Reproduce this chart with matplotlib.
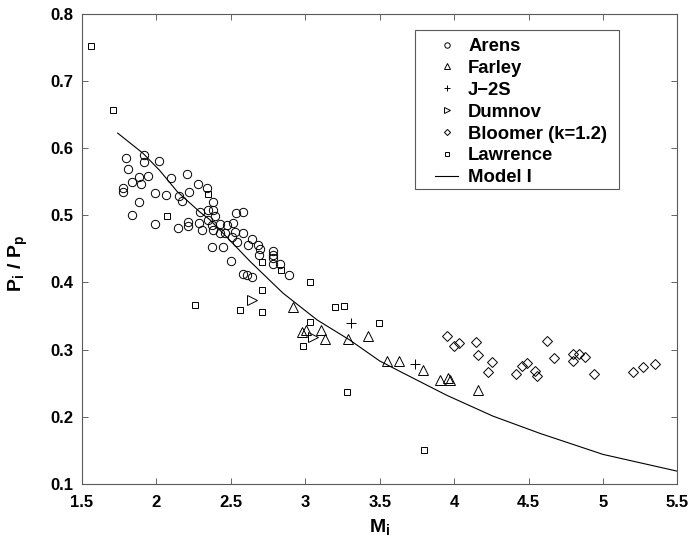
import matplotlib
matplotlib.use("Agg")
from matplotlib import pyplot as plt
from matplotlib.patches import Rectangle

plt.rcParams['font.family'] = ['Liberation Sans', 'DejaVu Sans']
plt.rcParams['mathtext.fontset'] = 'custom'
plt.rcParams['mathtext.rm'] = 'Liberation Sans:bold'
plt.rcParams['mathtext.it'] = 'Liberation Sans:bold'
plt.rcParams['mathtext.bf'] = 'Liberation Sans:bold'

# Arens
arens_x = [1.795, 1.916, 1.916, 2.015, 1.807, 1.885, 1.945, 1.898, 1.838, 1.777,
           1.777, 2.096, 2.207, 1.992, 2.066, 2.153, 2.174, 2.221, 2.277, 2.337,
           1.885, 1.838, 1.990, 2.147, 2.214, 2.214, 2.292, 2.288, 2.348, 2.378,
           2.378, 2.393, 2.304, 2.348, 2.371, 2.382, 2.427, 2.472, 2.512, 2.532,
           2.583, 2.427, 2.460, 2.505, 2.528, 2.583, 2.539, 2.449, 2.371, 2.640,
           2.613, 2.684, 2.695, 2.691, 2.785, 2.785, 2.785, 2.785, 2.830, 2.890,
           2.501, 2.583, 2.606, 2.640]
arens_y = [0.585, 0.590, 0.579, 0.580, 0.568, 0.557, 0.558, 0.546, 0.549, 0.541,
           0.534, 0.556, 0.561, 0.533, 0.530, 0.529, 0.521, 0.535, 0.547, 0.541,
           0.519, 0.500, 0.487, 0.481, 0.490, 0.484, 0.504, 0.488, 0.508, 0.519,
           0.508, 0.498, 0.478, 0.493, 0.485, 0.478, 0.487, 0.485, 0.489, 0.503,
           0.505, 0.473, 0.473, 0.468, 0.475, 0.473, 0.460, 0.453, 0.453, 0.465,
           0.456, 0.456, 0.449, 0.441, 0.446, 0.441, 0.436, 0.428, 0.427, 0.411,
           0.432, 0.413, 0.411, 0.408]

# Farley
farley_x = [2.919, 2.980, 3.004, 3.105, 3.132, 3.288, 3.419, 3.546, 3.631, 3.792,
            3.904, 3.960, 3.971, 4.158]
farley_y = [0.364, 0.326, 0.329, 0.329, 0.316, 0.316, 0.320, 0.283, 0.283, 0.270,
            0.254, 0.257, 0.254, 0.240]

# J-2S
j2s_x = [3.304, 3.736]
j2s_y = [0.340, 0.278]

# Dumnov
dumnov_x = [2.640, 3.049]
dumnov_y = [0.373, 0.318]

# Bloomer (k=1.2)
bloomer_x = [3.949, 3.998, 4.030, 4.144, 4.161, 4.251, 4.229, 4.413, 4.453, 4.491,
             4.621, 4.672, 4.542, 4.558, 4.800, 4.800, 4.840, 4.878, 4.939, 5.203,
             5.270, 5.348]
bloomer_y = [0.320, 0.306, 0.310, 0.311, 0.292, 0.281, 0.267, 0.264, 0.275, 0.280,
             0.312, 0.288, 0.268, 0.260, 0.293, 0.283, 0.293, 0.289, 0.263, 0.266,
             0.274, 0.278]

# Lawrence
lawrence_x = [1.558, 1.710, 2.069, 2.346, 2.707, 2.836, 3.031, 2.707, 2.707, 3.199,
              3.262, 3.031, 3.495, 2.986, 3.282, 2.560, 2.260, 3.800]
lawrence_y = [0.751, 0.656, 0.499, 0.531, 0.431, 0.419, 0.400, 0.388, 0.356, 0.363,
              0.365, 0.341, 0.340, 0.306, 0.237, 0.359, 0.366, 0.150]

# Model I
model_x = [1.74, 1.91, 2.02, 2.14, 2.29, 2.36, 2.50, 2.63, 2.85, 3.08, 3.30, 3.50,
           3.64, 3.95, 4.26, 4.58, 5.00, 5.50]
model_y = [0.622, 0.592, 0.567, 0.535, 0.505, 0.493, 0.461, 0.431, 0.384, 0.344,
           0.314, 0.283, 0.267, 0.232, 0.201, 0.175, 0.144, 0.119]

fig = plt.figure(figsize=(6.93, 5.38), dpi=100)
ax = fig.add_axes([0.1183, 0.1004, 0.8593, 0.8745])

mk = dict(linestyle='none', markerfacecolor='none', markeredgecolor='black',
          markeredgewidth=0.7)
ax.plot(arens_x, arens_y, marker='o', markersize=6, label='Arens', **mk)
ax.plot(farley_x, farley_y, marker='^', markersize=6.5, label='Farley', **mk)
ax.plot(j2s_x, j2s_y, marker='+', markersize=6.5, label='J\u22122S', **mk)
ax.plot(dumnov_x, dumnov_y, marker='>', markersize=6.5, label='Dumnov', **mk)
ax.plot(bloomer_x, bloomer_y, marker='D', markersize=4.8, label='Bloomer (k=1.2)', **mk)
ax.plot(lawrence_x, lawrence_y, marker='s', markersize=5, label='Lawrence', **mk)
ax.plot(model_x, model_y, color='black', linewidth=0.8, label='Model I')

ax.set_xlim(1.5, 5.5)
ax.set_ylim(0.1, 0.8)
ax.set_xticks([1.5, 2, 2.5, 3, 3.5, 4, 4.5, 5, 5.5])
ax.set_xticklabels(['1.5', '2', '2.5', '3', '3.5', '4', '4.5', '5', '5.5'])
ax.set_yticks([0.1, 0.2, 0.3, 0.4, 0.5, 0.6, 0.7, 0.8])

ax.tick_params(direction='in', length=4, width=0.6, top=True, right=True,
               labelsize=12, color='0.3')
ax.tick_params(axis='x', pad=8)
ax.tick_params(axis='y', pad=6)
for lbl in ax.get_xticklabels() + ax.get_yticklabels():
    lbl.set_fontweight('bold')
for sp in ax.spines.values():
    sp.set_linewidth(0.8)
    sp.set_color('0.35')

ax.set_xlabel(r'$\mathbf{M_i}$', fontsize=14)
ax.set_ylabel(r'$\mathbf{P_i\ /\ P_p}$', fontsize=14)
ax.xaxis.set_label_coords(0.5, -0.07)
ax.yaxis.set_label_coords(-0.088, 0.47)

# legend: entries without frame, frame drawn as a separate box (MATLAB style)
leg = ax.legend(loc='upper left', bbox_to_anchor=(0.593, 0.948), frameon=False,
                markerscale=0.65, prop={'weight': 'bold', 'size': 13.3},
                handlelength=1.25, labelspacing=0.265, borderpad=0,
                handletextpad=0.54, borderaxespad=0)
ax.add_patch(Rectangle((0.559, 0.627), 0.342, 0.338, transform=ax.transAxes,
                       facecolor='white', edgecolor='0.35', linewidth=0.8,
                       zorder=4.9))
leg.set_zorder(5)

fig.savefig('out.png', dpi=100)
